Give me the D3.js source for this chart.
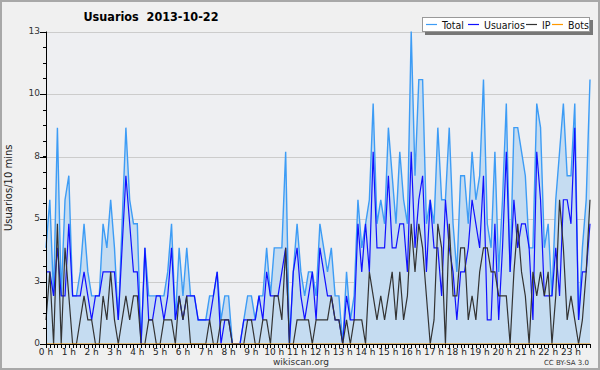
<!DOCTYPE html>
<html>
<head>
<meta charset="utf-8">
<script src="https://cdn.jsdelivr.net/npm/d3@7"></script>
<style>
  body { margin: 0; background: #f0f0f0; }
  svg { display: block; font-family: "DejaVu Sans", sans-serif; }
</style>
</head>
<body>
<svg id="chart" width="600" height="370"></svg>
<script>
// one value per 10 minutes, 144 per day
const total = [
  4, 6, 2, 9, 2, 6, 7, 2, 2, 3, 5, 3, 2, 2, 2, 5, 4, 6, 4, 1, 5, 9, 6, 5,
  5, 0, 4, 2, 2, 2, 2, 2, 3, 5, 1, 4, 2, 4, 2, 2, 1, 1, 1, 2, 2, 3, 1, 2,
  2, 0, 0, 0, 1, 2, 2, 1, 2, 2, 4, 2, 4, 4, 4, 8, 0, 3, 5, 3, 2, 3, 3, 2,
  5, 4, 3, 4, 2, 2, 0, 3, 1, 2, 6, 4, 5, 6, 10, 5, 6, 5, 9, 7, 5, 8, 6, 5,
  13, 7, 11, 11, 5, 6, 5, 9, 6, 6, 9, 5, 3, 7, 7, 5, 8, 6, 7, 11, 5, 4, 8, 3,
  6, 10, 3, 9, 9, 8, 7, 4, 4, 10, 9, 4, 5, 2, 6, 8, 10, 7, 7, 10, 1, 4, 6, 11
];
const usuarios = [
  3, 3, 2, 4, 2, 2, 5, 2, 2, 2, 3, 2, 1, 2, 2, 3, 3, 3, 3, 1, 4, 7, 5, 3,
  3, 0, 4, 1, 1, 2, 2, 1, 2, 4, 1, 2, 1, 2, 2, 2, 1, 1, 1, 1, 2, 3, 0, 1,
  1, 0, 0, 0, 1, 1, 1, 1, 2, 1, 3, 2, 2, 2, 3, 4, 0, 3, 4, 2, 1, 2, 3, 1,
  4, 3, 2, 2, 1, 1, 0, 2, 1, 1, 5, 3, 5, 3, 8, 4, 4, 4, 7, 4, 4, 5, 5, 3,
  8, 4, 6, 7, 3, 6, 4, 4, 2, 6, 4, 3, 1, 3, 3, 4, 6, 5, 4, 7, 1, 1, 5, 1,
  4, 8, 3, 6, 4, 5, 5, 4, 1, 8, 6, 2, 2, 2, 4, 2, 6, 6, 5, 9, 1, 3, 3, 5
];
const ip = [
  1, 3, 0, 5, 0, 4, 2, 0, 0, 1, 2, 1, 1, 0, 0, 2, 1, 3, 1, 0, 1, 2, 1, 2,
  2, 0, 0, 1, 1, 0, 0, 1, 1, 1, 0, 2, 1, 2, 0, 0, 0, 0, 0, 1, 0, 0, 1, 1,
  1, 0, 0, 0, 0, 1, 1, 0, 0, 1, 1, 0, 2, 2, 1, 4, 0, 0, 1, 1, 1, 1, 0, 1,
  1, 1, 1, 2, 1, 1, 0, 1, 0, 1, 1, 1, 0, 3, 2, 1, 2, 1, 2, 3, 1, 3, 1, 2,
  5, 3, 5, 4, 2, 0, 1, 5, 4, 0, 5, 2, 2, 4, 4, 1, 2, 1, 3, 4, 4, 3, 3, 2,
  2, 2, 0, 3, 5, 3, 2, 0, 3, 2, 3, 2, 3, 0, 2, 6, 4, 1, 2, 1, 0, 1, 3, 6
];
const bots = [
  0, 0, 0, 0, 0, 0, 0, 0, 0, 0, 0, 0, 0, 0, 0, 0, 0, 0, 0, 0, 0, 0, 0, 0,
  0, 0, 0, 0, 0, 0, 0, 0, 0, 0, 0, 0, 0, 0, 0, 0, 0, 0, 0, 0, 0, 0, 0, 0,
  0, 0, 0, 0, 0, 0, 0, 0, 0, 0, 0, 0, 0, 0, 0, 0, 0, 0, 0, 0, 0, 0, 0, 0,
  0, 0, 0, 0, 0, 0, 0, 0, 0, 0, 0, 0, 0, 0, 0, 0, 0, 0, 0, 0, 0, 0, 0, 0,
  0, 0, 0, 0, 0, 0, 0, 0, 0, 0, 0, 0, 0, 0, 0, 0, 0, 0, 0, 0, 0, 0, 0, 0,
  0, 0, 0, 0, 0, 0, 0, 0, 0, 0, 0, 0, 0, 0, 0, 0, 0, 0, 0, 0, 0, 0, 0, 0
];
const hourLabels = ['0 h', '1 h', '2 h', '3 h', '4 h', '5 h', '6 h', '7 h', '8 h', '9 h', '10 h', '11 h',
  '12 h', '13 h', '14 h', '15 h', '16 h', '17 h', '18 h', '19 h', '20 h', '21 h', '22 h', '23 h'];
const yTicks = [0, 2.6, 5.2, 7.8, 10.4, 13];
const seriesNames = ['Total', 'Usuarios', 'IP', 'Bots'];
const seriesColors = ['#3d9cf5', '#1010ff', '#333333', '#ff9900'];

const svg = d3.select('#chart');
const W = 600, H = 370;
const m = { left: 46, right: 590, top: 31.5, bottom: 344 };

const x = d3.scaleLinear().domain([0, total.length - 1]).range([m.left, m.right]);
const y = d3.scaleLinear().domain([0, 13]).range([m.bottom, m.top]);

// frame
svg.append('rect').attr('x', 1).attr('y', 1).attr('width', W - 2).attr('height', H - 2)
  .attr('fill', '#f0f0f0').attr('stroke', '#a8a8a8').attr('stroke-width', 2);
svg.append('rect').attr('x', m.left).attr('y', m.top).attr('width', m.right - m.left).attr('height', m.bottom - m.top)
  .attr('fill', '#eeeff2');

// grid
svg.append('g').selectAll('line').data(yTicks.slice(1)).join('line')
  .attr('x1', m.left).attr('x2', m.right)
  .attr('y1', d => Math.round(y(d)) + 0.5).attr('y2', d => Math.round(y(d)) + 0.5)
  .attr('stroke', '#cccccc');

// total area + lines
svg.append('path').datum(total)
  .attr('fill', '#c5dcf1')
  .attr('d', d3.area().x((d, i) => x(i)).y0(m.bottom).y1(d => y(d)));

const line = d3.line().x((d, i) => x(i)).y(d => y(d));
[total, usuarios, ip, bots].forEach((s, k) => {
  svg.append('path').datum(s)
    .attr('fill', 'none')
    .attr('stroke', seriesColors[k])
    .attr('stroke-width', k === 0 ? 1.4 : 1.2)
    .attr('d', line);
});

// y axis
const yAxis = svg.append('g').attr('transform', `translate(${m.left},0)`);
yAxis.append('line').attr('x1', 0.5).attr('x2', 0.5).attr('y1', m.top).attr('y2', m.bottom + 1).attr('stroke', '#000');
yAxis.selectAll('.minor').data(d3.range(0, 13.01, 0.65)).join('line')
  .attr('x1', -3).attr('x2', 0)
  .attr('y1', d => Math.round(y(d)) + 0.5).attr('y2', d => Math.round(y(d)) + 0.5)
  .attr('stroke', '#000');
yAxis.selectAll('.major').data(yTicks).join('line')
  .attr('x1', -6).attr('x2', 0)
  .attr('y1', d => Math.round(y(d)) + 0.5).attr('y2', d => Math.round(y(d)) + 0.5)
  .attr('stroke', '#000');
yAxis.selectAll('text').data(yTicks).join('text')
  .attr('x', -6).attr('y', d => y(d) + 2)
  .attr('text-anchor', 'end').attr('font-size', 9).attr('fill', '#333')
  .text(d => Math.round(d));

svg.append('text')
  .attr('transform', `translate(12,${(m.top + m.bottom) / 2}) rotate(-90)`)
  .attr('text-anchor', 'middle').attr('font-size', 10).attr('fill', '#222')
  .text('Usuarios/10 mins');

// x axis
const xAxis = svg.append('g').attr('transform', `translate(0,${m.bottom})`);
xAxis.append('line').attr('x1', m.left).attr('x2', m.right).attr('y1', 0.5).attr('y2', 0.5).attr('stroke', '#000');
xAxis.selectAll('.minor').data(d3.range(total.length)).join('line')
  .attr('x1', i => Math.round(x(i)) + 0.5).attr('x2', i => Math.round(x(i)) + 0.5)
  .attr('y1', 0).attr('y2', 4)
  .attr('stroke', '#000');
xAxis.selectAll('text').data(hourLabels).join('text')
  .attr('x', (d, h) => x(h * 6)).attr('y', 11)
  .attr('text-anchor', 'middle').attr('font-size', 9).attr('fill', '#222')
  .text(d => d);

// title and credits
svg.append('text').attr('x', 151).attr('y', 21)
  .attr('text-anchor', 'middle').attr('font-size', 12.5).attr('font-weight', 'bold')
  .style('font-family', '"DejaVu Sans Condensed", "DejaVu Sans", sans-serif')
  .style('white-space', 'pre')
  .text('Usuarios  2013-10-22');
svg.append('text').attr('x', 301).attr('y', 365)
  .attr('text-anchor', 'middle').attr('font-size', 9).attr('fill', '#333')
  .text('wikiscan.org');
svg.append('text').attr('x', 589).attr('y', 365)
  .attr('text-anchor', 'end').attr('font-size', 7).attr('fill', '#333')
  .text('CC BY-SA 3.0');

// legend
const lg = svg.append('g');
lg.append('rect').attr('x', 425).attr('y', 20).attr('width', 168).attr('height', 15).attr('fill', '#777');
lg.append('rect').attr('x', 422.5).attr('y', 17.5).attr('width', 167).attr('height', 14)
  .attr('fill', '#fff').attr('stroke', '#999');
const legendX = [426, 468, 526, 552];
seriesNames.forEach((name, k) => {
  lg.append('line').attr('x1', legendX[k]).attr('x2', legendX[k] + 11)
    .attr('y1', 24.5).attr('y2', 24.5).attr('stroke', seriesColors[k]).attr('stroke-width', 1.2);
  lg.append('text').attr('x', legendX[k] + 16).attr('y', 28.5)
    .attr('font-size', 10.5).attr('fill', '#111')
    .style('font-family', '"DejaVu Sans Condensed", "DejaVu Sans", sans-serif')
    .text(name);
});
</script>
</body>
</html>
